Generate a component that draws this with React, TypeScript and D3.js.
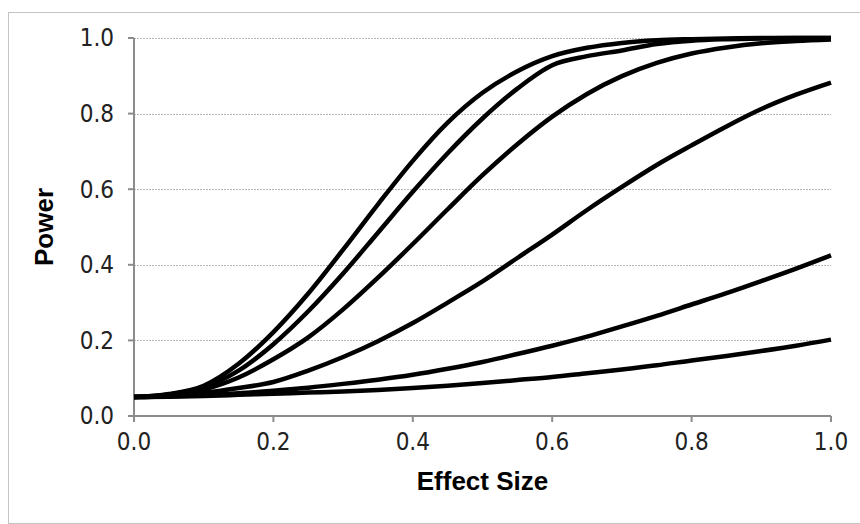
import React from "react";
import * as d3 from "d3";

// Effect size grid (x values)
const effectSizes = [0, 0.05, 0.1, 0.15, 0.2, 0.25, 0.3, 0.35, 0.4, 0.45, 0.5, 0.55, 0.6, 0.65, 0.7, 0.75, 0.8, 0.85, 0.9, 0.95, 1.0];

// Power curves (highest to lowest)
const power1 = [0.05, 0.058, 0.08, 0.138, 0.222, 0.324, 0.44, 0.56, 0.675, 0.776, 0.855, 0.912, 0.952, 0.974, 0.987, 0.994, 0.997, 0.999, 1.0, 1.0, 1.0];
const power2 = [0.05, 0.057, 0.076, 0.12, 0.19, 0.277, 0.377, 0.485, 0.593, 0.695, 0.787, 0.866, 0.928, 0.952, 0.967, 0.984, 0.993, 0.997, 0.999, 1.0, 1.0];
const power3 = [0.05, 0.055, 0.07, 0.102, 0.15, 0.208, 0.282, 0.366, 0.455, 0.547, 0.637, 0.719, 0.792, 0.852, 0.899, 0.934, 0.959, 0.975, 0.986, 0.992, 0.996];
const power4 = [0.05, 0.053, 0.061, 0.074, 0.09, 0.12, 0.156, 0.198, 0.246, 0.3, 0.356, 0.418, 0.48, 0.545, 0.606, 0.664, 0.716, 0.766, 0.812, 0.85, 0.882];
const power5 = [0.05, 0.052, 0.055, 0.06, 0.067, 0.075, 0.085, 0.096, 0.109, 0.125, 0.143, 0.164, 0.186, 0.21, 0.237, 0.265, 0.295, 0.325, 0.357, 0.39, 0.425];
const power6 = [0.05, 0.051, 0.053, 0.056, 0.059, 0.062, 0.065, 0.069, 0.074, 0.08, 0.087, 0.095, 0.103, 0.113, 0.123, 0.134, 0.147, 0.159, 0.172, 0.186, 0.202];

const seriesList = [power1, power2, power3, power4, power5, power6];

const xTicks = [0, 0.2, 0.4, 0.6, 0.8, 1.0];
const yTicks = [0, 0.2, 0.4, 0.6, 0.8, 1.0];

const xLabel = "Effect Size";
const yLabel = "Power";

export default function App() {
  const W = 860;
  const H = 524;
  const left = 134;
  const right = 831;
  const top = 38;
  const bottom = 416;

  const x = d3.scaleLinear().domain([0, 1]).range([left, right]);
  const y = d3.scaleLinear().domain([0, 1]).range([bottom, top]);

  const line = d3
    .line<[number, number]>()
    .x((d) => x(d[0]))
    .y((d) => y(d[1]))
    .curve(d3.curveMonotoneX);

  const tickFont = "'Liberation Sans Narrow', 'DejaVu Sans Condensed', sans-serif";
  const titleFont = "'Liberation Sans', Arial, sans-serif";
  const axisColor = "#8c8c8c";

  return (
    <svg
      width={W}
      height={H}
      style={{ position: "absolute", left: 0, top: 0, background: "#fff" }}
    >
      {/* chart border */}
      <rect x={8.5} y={12.5} width={880} height={511} fill="#fff" stroke="#c4c4c4" strokeWidth={1} />

      {/* gridlines */}
      {yTicks.filter((t) => t > 0).map((t) => (
        <line
          key={"g" + t}
          x1={left}
          x2={right}
          y1={Math.round(y(t)) + 0.5}
          y2={Math.round(y(t)) + 0.5}
          stroke="#b8b8b8"
          strokeWidth={1}
          strokeDasharray="2 1"
        />
      ))}

      {/* axes */}
      <line x1={left} x2={left} y1={top} y2={bottom} stroke={axisColor} strokeWidth={2} />
      <line x1={left} x2={right} y1={bottom} y2={bottom} stroke={axisColor} strokeWidth={2} />
      {yTicks.map((t) => (
        <line key={"yt" + t} x1={left - 6} x2={left} y1={y(t)} y2={y(t)} stroke={axisColor} strokeWidth={2} />
      ))}
      {xTicks.map((t) => (
        <line key={"xt" + t} x1={x(t)} x2={x(t)} y1={bottom} y2={bottom + 6} stroke={axisColor} strokeWidth={2} />
      ))}

      {/* tick labels */}
      {yTicks.map((t) => (
        <text
          key={"yl" + t}
          x={114}
          y={y(t)}
          dy="0.35em"
          textAnchor="end"
          fontFamily={tickFont}
          fontSize={24}
          fill="#222"
        >
          {t.toFixed(1)}
        </text>
      ))}
      {xTicks.map((t) => (
        <text
          key={"xl" + t}
          x={x(t)}
          y={450}
          textAnchor="middle"
          fontFamily={tickFont}
          fontSize={24}
          fill="#222"
        >
          {t.toFixed(1)}
        </text>
      ))}

      {/* axis titles */}
      <text
        x={(left + right) / 2}
        y={490}
        textAnchor="middle"
        fontFamily={titleFont}
        fontWeight="bold"
        fontSize={26}
        fill="#000"
      >
        {xLabel}
      </text>
      <text
        transform={`translate(53, ${(top + bottom) / 2}) rotate(-90)`}
        textAnchor="middle"
        fontFamily={titleFont}
        fontWeight="bold"
        fontSize={26}
        fill="#000"
      >
        {yLabel}
      </text>

      {/* curves */}
      {seriesList.map((s, i) => (
        <path
          key={"s" + i}
          d={line(effectSizes.map((e, j) => [e, s[j]] as [number, number])) || ""}
          fill="none"
          stroke="#000"
          strokeWidth={4.5}
          strokeLinejoin="round"
          strokeLinecap="butt"
        />
      ))}
    </svg>
  );
}
